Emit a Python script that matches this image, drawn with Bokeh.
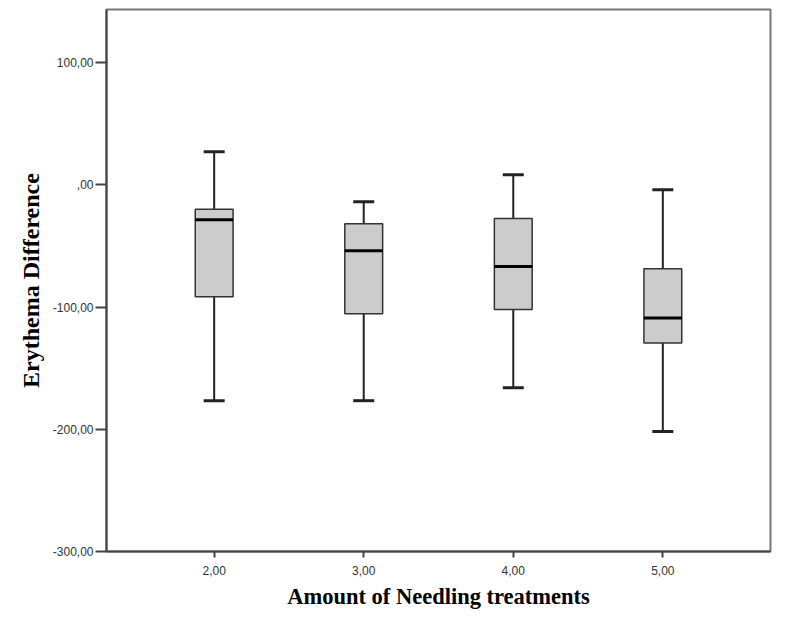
from bokeh.plotting import figure
from bokeh.models import FixedTicker, Whisker, ColumnDataSource, TeeHead, Range1d
from bokeh.embed import file_html
from bokeh.resources import INLINE

# Data
groups = [2.0, 3.0, 4.0, 5.0]
upper_whisker = [27.0, -13.9, 8.2, -4.0]
q3 = [-20.0, -31.9, -27.5, -68.7]
median = [-28.6, -54.0, -66.8, -109.0]
q1 = [-91.6, -105.5, -102.0, -129.4]
lower_whisker = [-176.6, -176.6, -166.0, -201.8]

x_ticks = [2, 3, 4, 5]
x_tick_labels = ["2,00", "3,00", "4,00", "5,00"]
y_ticks = [-300, -200, -100, 0, 100]
y_tick_labels = ["-300,00", "-200,00", "-100,00", ",00", "100,00"]

box_width = 0.253
half = box_width / 2

src = ColumnDataSource(dict(
    x=groups, upper=upper_whisker, q3=q3, med=median, q1=q1, lower=lower_whisker,
    x0=[g - half for g in groups], x1=[g + half for g in groups],
))

p = figure(width=792, height=619, output_backend="svg", toolbar_location=None,
           x_range=Range1d(1.28, 5.72), y_range=Range1d(-300, 143.5),
           min_border_left=106, min_border_right=22, min_border_top=9, min_border_bottom=68)

p.background_fill_color = "white"
p.border_fill_color = "white"
p.outline_line_color = "#777777"
p.outline_line_width = 2
p.xgrid.visible = False
p.ygrid.visible = False

w = Whisker(source=src, base="x", upper="upper", lower="lower", dimension="height",
            line_color="#222222", line_width=2,
            upper_head=TeeHead(size=21, line_color="#222222", line_width=3),
            lower_head=TeeHead(size=21, line_color="#222222", line_width=3))
p.add_layout(w)

p.vbar(x="x", width=box_width, bottom="q1", top="q3", source=src,
       fill_color="#cccccc", line_color="#333333", line_width=1.5)
p.segment(x0="x0", y0="med", x1="x1", y1="med", source=src,
          line_color="#000000", line_width=3)

for ax in (p.xaxis[0], p.yaxis[0]):
    ax.axis_line_color = "#444444"
    ax.axis_line_width = 2
    ax.major_tick_line_color = "#444444"
    ax.major_tick_line_width = 2
    ax.minor_tick_line_color = None
    ax.major_tick_in = 0
    ax.major_label_text_font = "Liberation Sans"
    ax.major_label_text_font_size = "12px"
    ax.major_label_text_color = "#333333"
    ax.axis_label_text_font = "Liberation Serif"
    ax.axis_label_text_font_style = "bold"
    ax.axis_label_text_color = "#000000"

p.xaxis.ticker = FixedTicker(ticks=x_ticks)
p.xaxis.major_label_overrides = {t: l for t, l in zip(x_ticks, x_tick_labels)}
p.xaxis.major_tick_out = 6
p.xaxis.major_label_standoff = 8
p.xaxis.axis_label = "Amount of Needling treatments"
p.xaxis.axis_label_text_font_size = "22.5px"
p.xaxis.axis_label_standoff = 6

p.yaxis.ticker = FixedTicker(ticks=y_ticks)
p.yaxis.major_label_overrides = {t: l for t, l in zip(y_ticks, y_tick_labels)}
p.yaxis.major_tick_out = 11
p.yaxis.major_label_standoff = 2
p.yaxis.axis_label = "Erythema Difference"
p.yaxis.axis_label_text_font_size = "24px"
p.yaxis.axis_label_standoff = 6

open("out.html", "w").write(file_html(p, INLINE))
